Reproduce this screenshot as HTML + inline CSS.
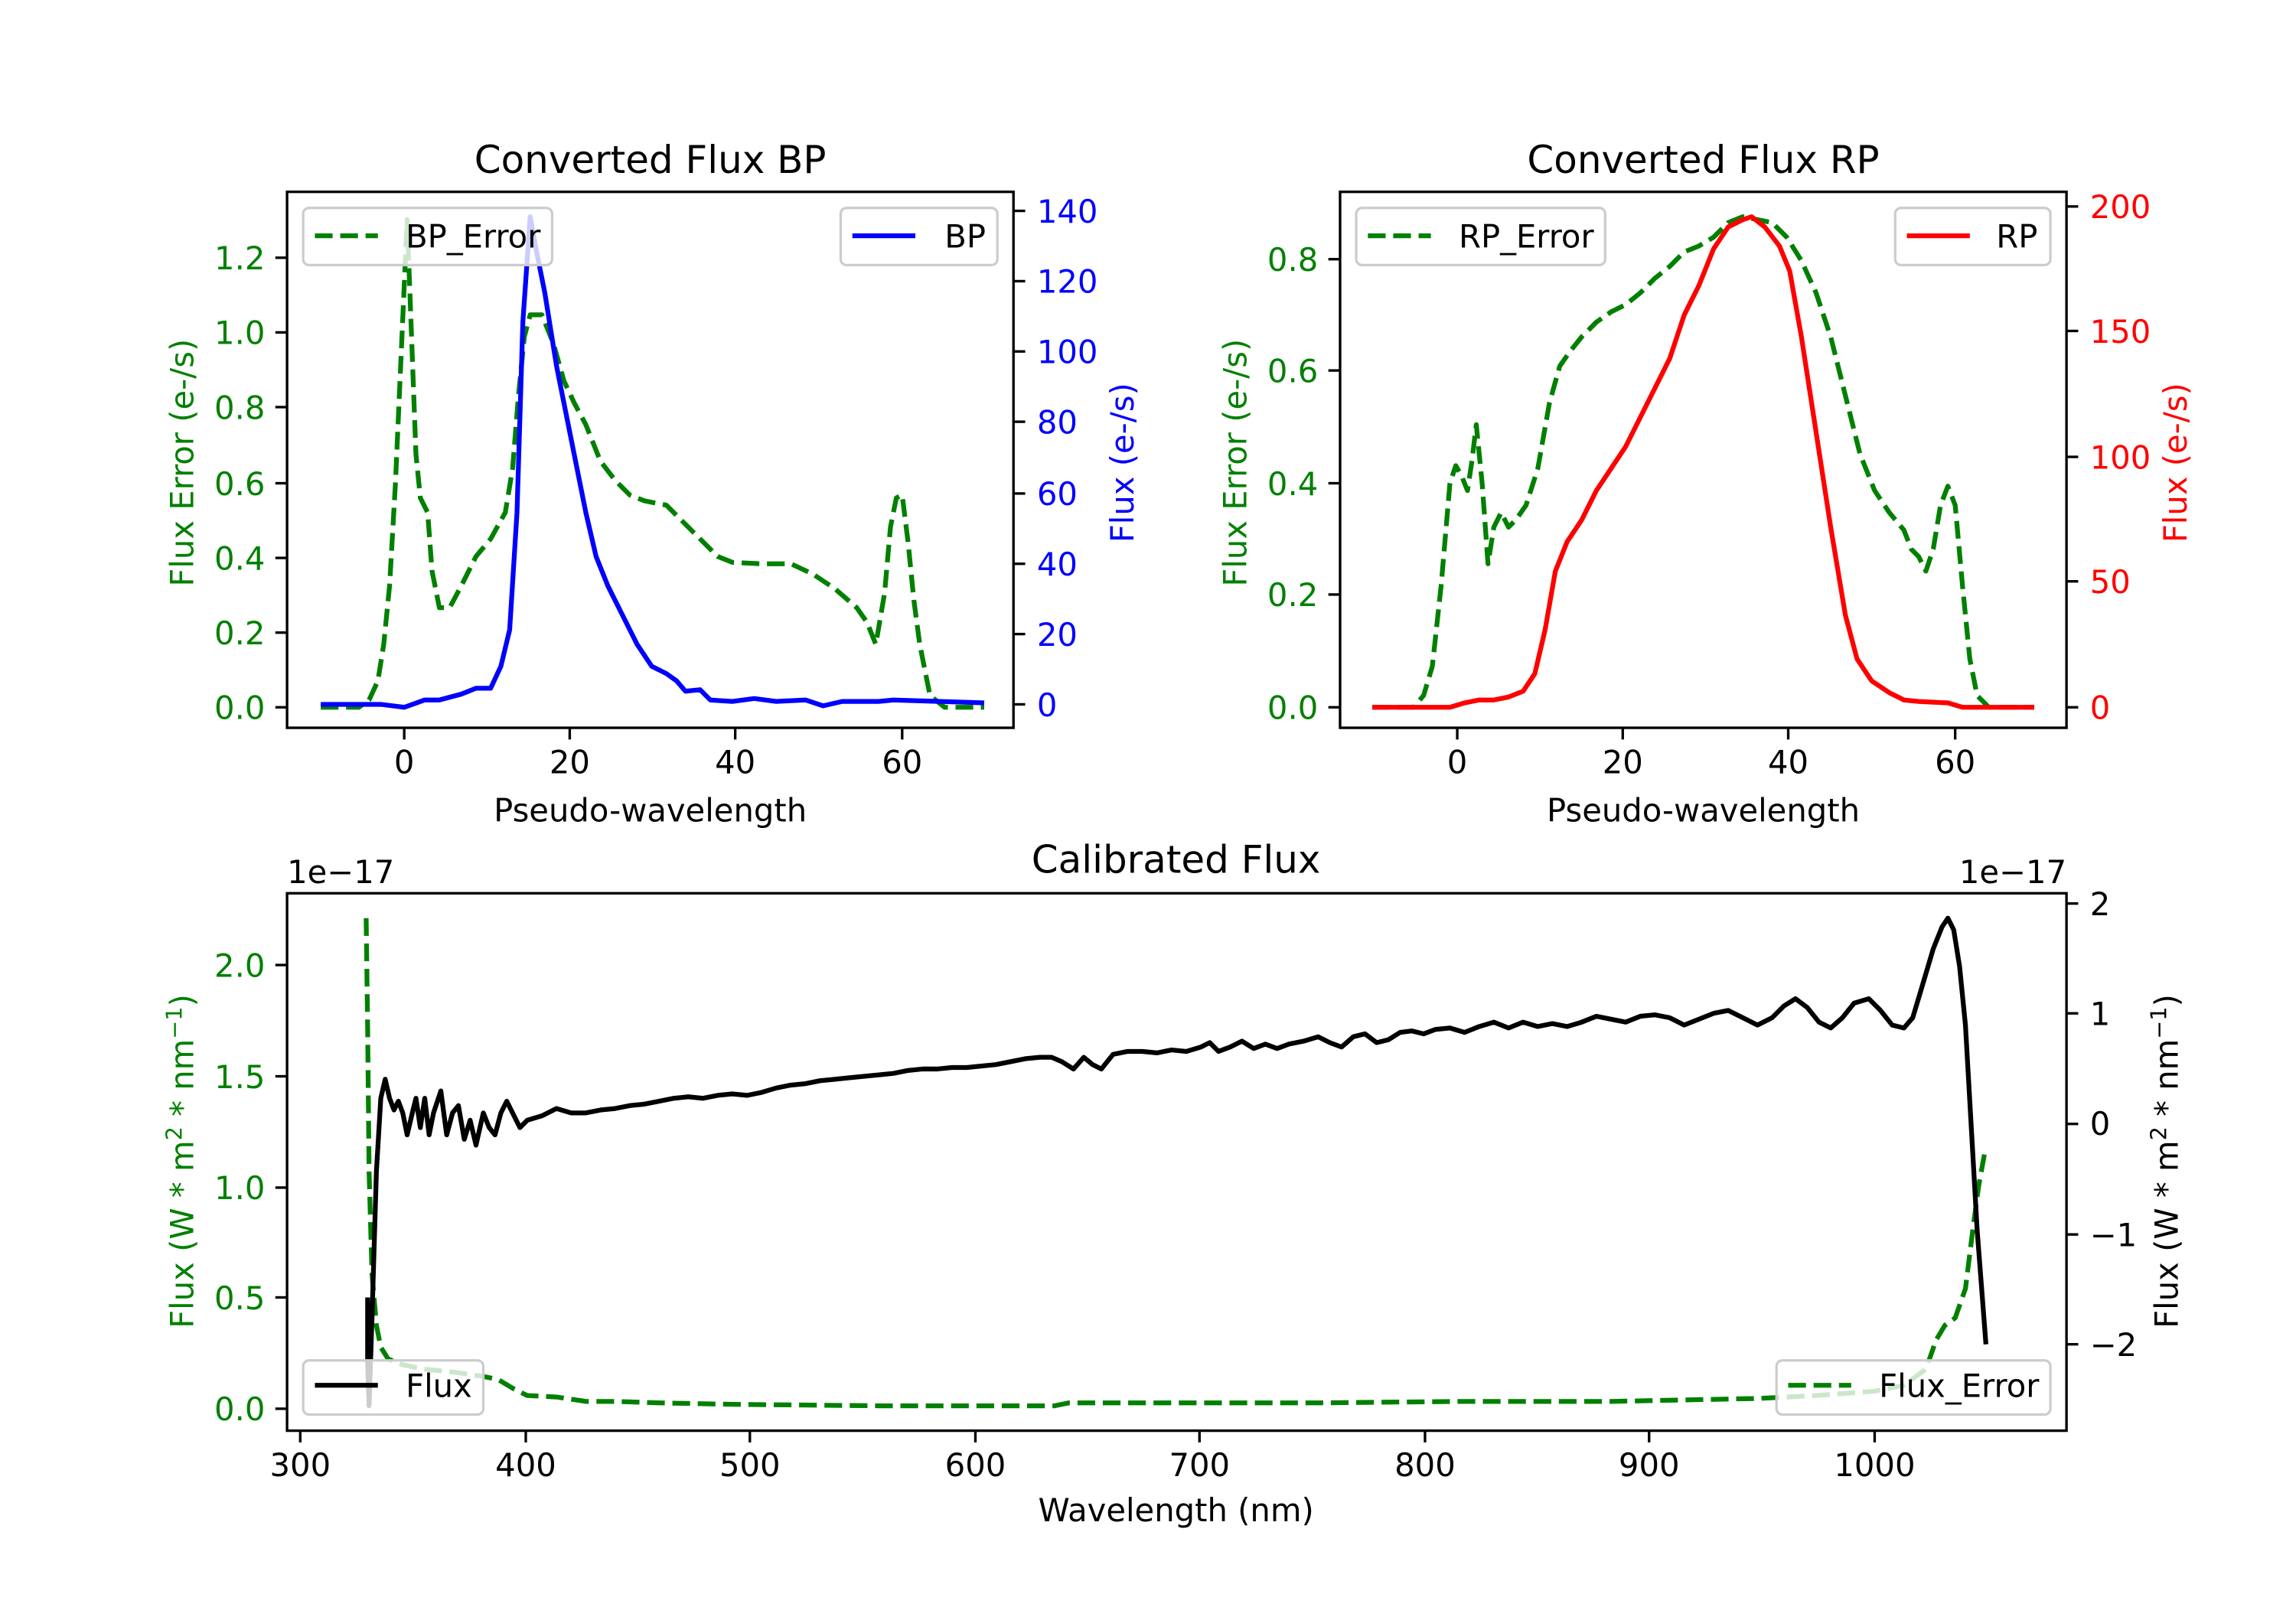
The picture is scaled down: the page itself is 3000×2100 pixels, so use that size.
<!DOCTYPE html>
<html><head><meta charset="utf-8"><style>html,body{margin:0;padding:0;background:#fff}svg{display:block}</style></head>
<body>
<svg xmlns="http://www.w3.org/2000/svg" width="3000" height="2100" viewBox="0 0 1567.7 1097.4" font-family="DejaVu Sans, Liberation Sans, sans-serif" font-size="21.8">
<rect width="1567.7" height="1097.4" fill="#fff"/>
<g fill="none" stroke-width="3.27" stroke-linejoin="round">
<!-- TL BP_Error -->
<polyline stroke="#008000" stroke-dasharray="12.1,5.2" points="219,483 245,483 252,478 258,465 262,440 266,400 270,330 274,240 278,150 281,230 284,310 287,340 292,350 295,390 300,415 307,415 315,400 325,380 335,368 345,350 350,320 354,270 358,230 362,215 370,215 378,235 385,260 392,275 400,290 410,315 420,328 430,338 440,342 455,345 465,355 478,368 490,380 500,384 520,385 540,385 555,392 570,402 585,415 592,425 598,440 604,405 608,360 612,340 616,338 620,370 624,410 628,440 635,475 645,483 672,483"/>
<polyline stroke="#0000ff" points="219,481 260,481 276,483 290,478 300,478 315,474 325,470 335,470 342,455 348,430 353,350 357,220 362,148 366,170 372,200 380,250 390,300 400,350 407,380 415,400 425,420 435,440 445,455 455,460 462,465 468,472 478,471 485,478 500,479 515,477 530,479 550,478 562,482 575,479 600,479 610,478 672,480"/>
<!-- TR -->
<polyline stroke="#008000" stroke-dasharray="12.1,5.2" points="937,483 965,483 972,475 978,455 984,400 990,330 994,318 998,325 1002,335 1005,315 1008,290 1012,330 1016,385 1020,360 1025,350 1030,360 1035,355 1042,345 1050,320 1058,275 1065,250 1072,240 1080,230 1090,220 1100,213 1110,208 1120,200 1130,190 1140,182 1150,172 1160,168 1170,162 1180,152 1190,148 1200,150 1210,152 1220,162 1230,178 1240,200 1250,230 1260,270 1270,310 1280,335 1290,350 1300,362 1305,375 1310,380 1315,390 1320,375 1325,345 1330,332 1335,345 1340,400 1345,450 1350,475 1358,483 1389,483"/>
<polyline stroke="#ff0000" points="937,483 990,483 1000,480 1010,478 1020,478 1030,476 1040,472 1048,460 1055,430 1062,390 1070,370 1080,355 1090,335 1100,320 1110,305 1120,285 1130,265 1140,245 1150,215 1160,195 1170,170 1180,155 1190,150 1196,148 1205,155 1215,168 1222,185 1230,230 1240,295 1250,360 1260,420 1268,450 1278,465 1290,473 1300,478 1310,479 1330,480 1340,483 1389,483"/>
<!-- Bottom -->
<polyline stroke="#008000" stroke-dasharray="12.1,5.2" points="250,627 251,700 252,800 254,870 257,905 260,920 265,928 275,932 290,935 310,937 330,940 340,942 350,948 360,953 380,954 400,957 420,957 450,958 500,959 600,960 720,960 730,958 900,958 1000,957 1100,957 1200,955 1240,953 1280,950 1300,946 1315,935 1322,915 1328,905 1335,900 1342,880 1347,840 1351,810 1355,788"/>
<polyline stroke="#000" points="251,886 251,930 252,960 254,900 257,800 260,750 263,737 266,750 269,758 272,752 275,760 278,775 282,758 284,750 287,770 290,750 293,775 296,760 301,745 305,775 309,760 313,755 317,778 321,765 325,782 330,760 334,770 338,775 342,760 346,752 350,760 355,770 360,765 370,762 380,757 390,760 400,760 410,758 420,757 430,755 440,754 450,752 460,750 470,749 480,750 490,748 500,747 510,748 520,746 530,743 540,741 550,740 560,738 570,737 580,736 590,735 600,734 610,733 620,731 630,730 640,730 650,729 660,729 670,728 680,727 690,725 700,723 710,722 718,722 725,725 733,730 740,722 746,727 752,730 760,720 770,718 780,718 790,719 800,717 810,718 820,715 826,712 832,718 840,715 848,711 856,716 864,713 872,716 880,713 890,711 900,708 908,712 916,715 924,708 932,706 940,712 948,710 956,705 964,704 972,706 980,703 990,702 1000,705 1010,701 1020,698 1030,702 1040,698 1050,701 1060,699 1070,701 1080,698 1090,694 1100,696 1110,698 1120,694 1130,693 1140,695 1150,700 1160,696 1170,692 1180,690 1190,695 1200,700 1210,695 1218,687 1226,682 1234,688 1242,698 1250,702 1258,695 1266,685 1276,682 1284,690 1292,700 1300,702 1306,695 1312,675 1320,648 1326,633 1330,627 1334,635 1338,660 1342,700 1346,770 1350,840 1356,918"/>
</g>
<!-- legends -->
<g stroke="#cccccc" stroke-width="1.7" fill="rgba(255,255,255,0.8)">
<rect x="207" y="142" width="170" height="39" rx="4"/>
<rect x="574" y="142" width="107" height="39" rx="4"/>
<rect x="926" y="142" width="170" height="39" rx="4"/>
<rect x="1294" y="142" width="106" height="39" rx="4"/>
<rect x="207" y="929" width="123" height="37" rx="4"/>
<rect x="1213" y="929" width="187" height="37" rx="4"/>
</g>
<g stroke-width="3.27" fill="none">
<line x1="215" y1="161" x2="258" y2="161" stroke="#008000" stroke-dasharray="12.1,5.2"/>
<line x1="582" y1="161" x2="625" y2="161" stroke="#0000ff"/>
<line x1="934" y1="161" x2="977" y2="161" stroke="#008000" stroke-dasharray="12.1,5.2"/>
<line x1="1302" y1="161" x2="1345" y2="161" stroke="#ff0000"/>
<line x1="215" y1="946" x2="258" y2="946" stroke="#000"/>
<line x1="1221" y1="946" x2="1264" y2="946" stroke="#008000" stroke-dasharray="12.1,5.2"/>
</g>
<g fill="#000">
<text x="277" y="169">BP_Error</text>
<text x="645" y="169">BP</text>
<text x="996" y="169">RP_Error</text>
<text x="1363" y="169">RP</text>
<text x="277" y="954">Flux</text>
<text x="1283" y="954">Flux_Error</text>
</g>
<!-- axes frames -->
<g fill="none" stroke="#000" stroke-width="1.74">
<rect x="196" y="131" width="496" height="366"/>
<rect x="915" y="131" width="496" height="366"/>
<rect x="196" y="610" width="1215" height="367"/>
</g>
<!-- TL ticks -->
<g stroke="#000" stroke-width="1.74">
<line x1="276" y1="497" x2="276" y2="505"/><line x1="389" y1="497" x2="389" y2="505"/><line x1="502" y1="497" x2="502" y2="505"/><line x1="616" y1="497" x2="616" y2="505"/>
<line x1="995" y1="497" x2="995" y2="505"/><line x1="1108" y1="497" x2="1108" y2="505"/><line x1="1221" y1="497" x2="1221" y2="505"/><line x1="1335" y1="497" x2="1335" y2="505"/>
<line x1="188" y1="483" x2="196" y2="483"/><line x1="188" y1="432" x2="196" y2="432"/><line x1="188" y1="381" x2="196" y2="381"/><line x1="188" y1="330" x2="196" y2="330"/><line x1="188" y1="278" x2="196" y2="278"/><line x1="188" y1="227" x2="196" y2="227"/><line x1="188" y1="176" x2="196" y2="176"/>
<line x1="692" y1="481" x2="700" y2="481"/><line x1="692" y1="433" x2="700" y2="433"/><line x1="692" y1="385" x2="700" y2="385"/><line x1="692" y1="337" x2="700" y2="337"/><line x1="692" y1="288" x2="700" y2="288"/><line x1="692" y1="240" x2="700" y2="240"/><line x1="692" y1="192" x2="700" y2="192"/><line x1="692" y1="144" x2="700" y2="144"/>
<line x1="907" y1="483" x2="915" y2="483"/><line x1="907" y1="406" x2="915" y2="406"/><line x1="907" y1="330" x2="915" y2="330"/><line x1="907" y1="253" x2="915" y2="253"/><line x1="907" y1="177" x2="915" y2="177"/>
<line x1="1411" y1="483" x2="1419" y2="483"/><line x1="1411" y1="397" x2="1419" y2="397"/><line x1="1411" y1="312" x2="1419" y2="312"/><line x1="1411" y1="226" x2="1419" y2="226"/><line x1="1411" y1="141" x2="1419" y2="141"/>
<line x1="205" y1="977" x2="205" y2="985"/><line x1="359" y1="977" x2="359" y2="985"/><line x1="512" y1="977" x2="512" y2="985"/><line x1="666" y1="977" x2="666" y2="985"/><line x1="819" y1="977" x2="819" y2="985"/><line x1="973" y1="977" x2="973" y2="985"/><line x1="1126" y1="977" x2="1126" y2="985"/><line x1="1280" y1="977" x2="1280" y2="985"/>
<line x1="188" y1="962" x2="196" y2="962"/><line x1="188" y1="886" x2="196" y2="886"/><line x1="188" y1="811" x2="196" y2="811"/><line x1="188" y1="735" x2="196" y2="735"/><line x1="188" y1="659" x2="196" y2="659"/>
<line x1="1411" y1="918" x2="1419" y2="918"/><line x1="1411" y1="843" x2="1419" y2="843"/><line x1="1411" y1="767.5" x2="1419" y2="767.5"/><line x1="1411" y1="692" x2="1419" y2="692"/><line x1="1411" y1="617" x2="1419" y2="617"/>
</g>
<g text-anchor="middle" fill="#000">
<text x="276" y="528">0</text><text x="389" y="528">20</text><text x="502" y="528">40</text><text x="616" y="528">60</text>
<text x="995" y="528">0</text><text x="1108" y="528">20</text><text x="1221" y="528">40</text><text x="1335" y="528">60</text>
<text x="444" y="561">Pseudo-wavelength</text><text x="1163" y="561">Pseudo-wavelength</text>
<text x="205" y="1008">300</text><text x="359" y="1008">400</text><text x="512" y="1008">500</text><text x="666" y="1008">600</text><text x="819" y="1008">700</text><text x="973" y="1008">800</text><text x="1126" y="1008">900</text><text x="1280" y="1008">1000</text>
<text x="803" y="1039">Wavelength (nm)</text>
<text x="444" y="118" font-size="26.1">Converted Flux BP</text>
<text x="1163" y="118" font-size="26.1">Converted Flux RP</text>
<text x="803" y="596" font-size="26.1">Calibrated Flux</text>
</g>
<g text-anchor="end" fill="#008000">
<text x="181" y="491">0.0</text><text x="181" y="440">0.2</text><text x="181" y="389">0.4</text><text x="181" y="338">0.6</text><text x="181" y="286">0.8</text><text x="181" y="235">1.0</text><text x="181" y="184">1.2</text>
<text x="900" y="491">0.0</text><text x="900" y="414">0.2</text><text x="900" y="338">0.4</text><text x="900" y="261">0.6</text><text x="900" y="185">0.8</text>
<text x="181" y="970">0.0</text><text x="181" y="894">0.5</text><text x="181" y="819">1.0</text><text x="181" y="743">1.5</text><text x="181" y="667">2.0</text>
</g>
<g fill="#0000ff">
<text x="708" y="489">0</text><text x="708" y="441">20</text><text x="708" y="393">40</text><text x="708" y="345">60</text><text x="708" y="296">80</text><text x="708" y="248">100</text><text x="708" y="200">120</text><text x="708" y="152">140</text>
</g>
<g fill="#ff0000">
<text x="1427" y="491">0</text><text x="1427" y="405">50</text><text x="1427" y="320">100</text><text x="1427" y="234">150</text><text x="1427" y="149">200</text>
</g>
<g fill="#000">
<text x="1427" y="926">−2</text><text x="1427" y="851">−1</text><text x="1427" y="775">0</text><text x="1427" y="700">1</text><text x="1427" y="625">2</text>
<text x="196" y="603">1e−17</text>
<text x="1411" y="603" text-anchor="end">1e−17</text>
</g>
<g text-anchor="middle">
<text transform="translate(132,316) rotate(-90)" fill="#008000">Flux Error (e-/s)</text>
<text transform="translate(774,316) rotate(-90)" fill="#0000ff">Flux (e-/s)</text>
<text transform="translate(851,316) rotate(-90)" fill="#008000">Flux Error (e-/s)</text>
<text transform="translate(1493,316) rotate(-90)" fill="#ff0000">Flux (e-/s)</text>
<text transform="translate(132,793) rotate(-90)" fill="#008000">Flux (W * m<tspan dy="-8" font-size="15">2</tspan><tspan dy="8"> * nm</tspan><tspan dy="-8" font-size="15">−1</tspan><tspan dy="8">)</tspan></text>
<text transform="translate(1487,793) rotate(-90)" fill="#000">Flux (W * m<tspan dy="-8" font-size="15">2</tspan><tspan dy="8"> * nm</tspan><tspan dy="-8" font-size="15">−1</tspan><tspan dy="8">)</tspan></text>
</g>
</svg>
</body></html>
